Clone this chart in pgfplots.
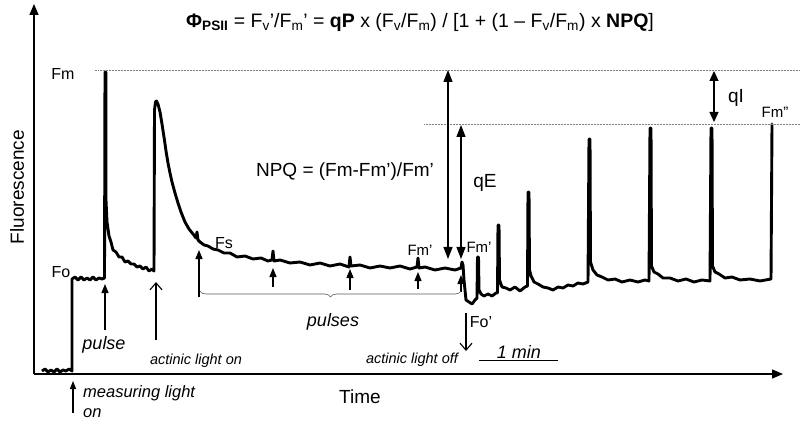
\documentclass[border=0pt]{standalone}
\usepackage{fontspec}
\setmainfont{Liberation Sans}
\usepackage{pgfplots}
\pgfplotsset{compat=1.18}
\usetikzlibrary{arrows.meta,decorations.pathreplacing}

\newcommand{\fs}[1]{\fontsize{#1}{#1}\selectfont}
\tikzset{
  bigarr/.style={line width=1.3pt, {Triangle[length=12pt,width=9pt]}-{Triangle[length=12pt,width=9pt]}},
  uparr/.style={line width=1.3pt, -{Triangle[length=9pt,width=7pt]}},
  openarr/.style={line width=1.1pt, -{Straight Barb[length=7pt,width=12pt]}},
  guide/.style={gray, densely dotted, line width=0.5pt},
}

\begin{document}
\begin{tikzpicture}
\begin{axis}[
  scale only axis,
  width=749pt, height=370pt,
  xmin=34, xmax=783, ymin=-374, ymax=-4,
  axis lines=left,
  axis line style={line width=1.3pt, -{Triangle[length=11pt,width=9pt]}},
  xtick=\empty, ytick=\empty,
  clip=false,
]
% fluorescence trace: x in px from the left, y in px from the top (flipped by the filter)
\addplot[black, line width=2.9pt, line join=round, y filter/.expression={-y}] coordinates {
 (42,371) (45,369) (48,372) (51,370) (54,372) (57,369) (60,372) (63,370) (66,371) (69,369) (72,371)
 (72,279) (75,277) (78,280) (81,277) (84,280) (87,278) (90,280) (93,277) (96,280) (99,278) (102,279) (104.5,278)
 (105,72) (105.8,72) (106,200) (107,222) (109,236) (111,242) (113,250) (116,252) (119,257) (122,257) (125,262)
 (128,261) (131,264) (134,264) (137,267) (140,266) (143,269) (146,267) (149,271) (152,269) (154,271)
 (154.5,110) (155.5,102) (156.5,101) (158,104) (160,112) (162,124) (164,137) (166,151) (168,163) (170,173)
 (172,182) (175,193) (178,203) (181,212) (185,222) (189,229) (193,234) (196,238) (197,232) (198,240)
 (200,242) (204,245) (208,246) (213,249) (218,250) (224,253) (230,253) (237,257) (245,256) (253,259)
 (261,258) (268,261) (272,260) (273,251) (274,261) (280,260) (290,263) (300,262) (310,265) (320,263)
 (330,266) (340,264) (349,267) (350,257) (351,266) (360,265) (370,268) (380,266) (390,268) (400,266)
 (410,269) (417,267) (418,258) (419,268) (425,267) (435,270) (445,268) (455,270) (461,268)
 (462,262) (463,265) (464,280) (466,300) (469,302) (472,304) (475,300) (477,298)
 (477.5,257) (478.5,257) (479,290) (481,294) (484,296) (488,294) (492,296) (496,293)
 (497.5,293) (498,225) (499,225) (499.5,280) (502,287) (506,288) (510,290) (515,287) (520,291) (525,287)
 (527.5,286) (528,192) (529,192) (529.5,270) (531,276) (534,282) (538,284) (543,287) (548,288) (553,290)
 (558,287) (563,288) (568,285) (573,286) (578,283) (583,284) (588,282)
 (589,139) (590,139) (590.5,262) (593,270) (597,275) (602,277) (608,280) (615,279) (622,282) (630,280)
 (638,282) (645,280) (649,281)
 (650,128) (651,128) (651.5,266) (654,272) (658,274) (663,278) (670,278) (678,281) (686,279) (694,282)
 (702,280) (710,281)
 (711,128) (712,128) (712.5,266) (715,272) (719,274) (725,278) (732,277) (740,280) (750,279) (760,281)
 (771,279) (772,124) (772.5,124)
};

% guide lines
\draw[guide] (axis cs:95,-70) -- (axis cs:800,-70);
\draw[guide] (axis cs:424,-124) -- (axis cs:800,-124);

% double arrows
\draw[bigarr] (axis cs:448,-70) -- (axis cs:448,-259);
\draw[bigarr] (axis cs:461,-125) -- (axis cs:461,-259);
\draw[line width=1.3pt, {Triangle[length=10pt,width=9pt]}-{Triangle[length=10pt,width=9pt]}] (axis cs:714,-71) -- (axis cs:714,-122);

% event arrows
\draw[line width=1.1pt, -{Triangle[length=8pt,width=6pt]}] (axis cs:73,-413) -- (axis cs:73,-381);
\draw[uparr] (axis cs:105,-330) -- (axis cs:105,-284);
\draw[openarr] (axis cs:156,-340) -- (axis cs:156,-282);
\draw[uparr] (axis cs:199,-297) -- (axis cs:199,-250);
\draw[uparr] (axis cs:273,-287) -- (axis cs:273,-268);
\draw[uparr] (axis cs:350,-290) -- (axis cs:350,-269);
\draw[uparr] (axis cs:418,-289) -- (axis cs:418,-272);
\draw[uparr] (axis cs:461,-292) -- (axis cs:461,-275);
\draw[openarr] (axis cs:466,-313) -- (axis cs:466,-351);

% brace for pulses
\draw[gray!70!black, line width=0.6pt, decorate, decoration={brace, mirror, amplitude=6pt}]
  (axis cs:200,-291) -- (axis cs:461,-291);

% 1 min scale bar
\draw[line width=1pt] (axis cs:479,-360) -- (axis cs:558,-360);

% texts
\node[font=\fs{19.5}] at (axis cs:420,-22) {\textbf{Φ\textsubscript{PSII}} = F\textsubscript{v}'/F\textsubscript{m}' = \textbf{qP} x (F\textsubscript{v}/F\textsubscript{m}) / [1 + (1 – F\textsubscript{v}/F\textsubscript{m}) x \textbf{NPQ}]};
\node[font=\fs{19}, rotate=90] at (axis cs:17,-187) {Fluorescence};
\node[font=\fs{19}] at (axis cs:360,-397) {Time};
\node[font=\fs{16}] at (axis cs:63,-74) {Fm};
\node[font=\fs{16}] at (axis cs:61,-272) {Fo};
\node[font=\fs{16}] at (axis cs:224,-243) {Fs};
\node[font=\fs{19}] at (axis cs:345,-172) {NPQ = (Fm-Fm')/Fm'};
\node[font=\fs{19}] at (axis cs:485,-183) {qE};
\node[font=\fs{19}] at (axis cs:736,-98) {qI};
\node[font=\fs{15}] at (axis cs:420,-250) {Fm'};
\node[font=\fs{15}] at (axis cs:479,-247) {Fm'};
\node[font=\fs{15}] at (axis cs:775,-112) {Fm''};
\node[font=\fs{16}] at (axis cs:481,-322) {Fo'};
\node[font=\fs{18}\itshape] at (axis cs:104,-345) {pulse};
\node[font=\fs{18}\itshape] at (axis cs:333,-322) {pulses};
\node[font=\fs{14.5}\itshape] at (axis cs:196,-361) {actinic light on};
\node[font=\fs{14.5}\itshape] at (axis cs:412,-360) {actinic light off};
\node[font=\fs{18}\itshape] at (axis cs:519,-352) {1 min};
\node[font=\fs{16.5}\itshape, anchor=west, inner sep=0pt] at (axis cs:83,-393) {measuring light};
\node[font=\fs{16.5}\itshape, anchor=west, inner sep=0pt] at (axis cs:83,-413) {on};

\coordinate (BL) at (axis cs:0,-423);
\coordinate (TR) at (axis cs:800,0);
\end{axis}
\pgfresetboundingbox
\path (BL) rectangle (TR);
\end{tikzpicture}
\end{document}
